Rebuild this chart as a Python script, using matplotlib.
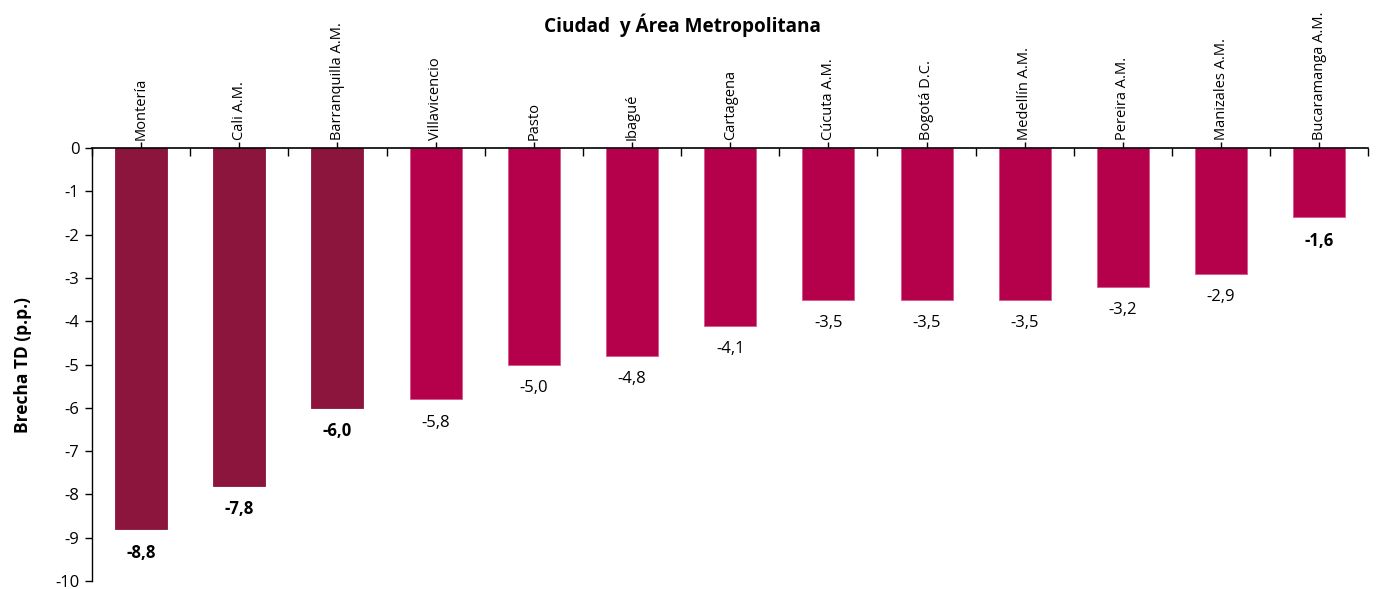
import matplotlib
matplotlib.use("Agg")
import matplotlib.pyplot as plt
import numpy as np

ciudades = ["Montería", "Cali A.M.", "Barranquilla A.M.", "Villavicencio", "Pasto",
            "Ibagué", "Cartagena", "Cúcuta A.M.", "Bogotá D.C.", "Medellín A.M.",
            "Pereira A.M.", "Manizales A.M.", "Bucaramanga A.M."]
brecha = [-8.8, -7.8, -6.0, -5.8, -5.0, -4.8, -4.1, -3.5, -3.5, -3.5, -3.2, -2.9, -1.6]
destacadas = ["Montería", "Cali A.M.", "Barranquilla A.M."]
negrita = ["Montería", "Cali A.M.", "Barranquilla A.M.", "Bucaramanga A.M."]
yticks = list(range(0, -11, -1))

plt.rcParams['font.family'] = ['Open Sans', 'DejaVu Sans']

fig = plt.figure(figsize=(13.85, 5.89), dpi=100)
ax = fig.add_axes([0.0664, 0.0136, 0.9216, 0.7351])

x = np.arange(len(ciudades))
colors = ["#8B153C" if c in destacadas else "#B5004B" for c in ciudades]
ax.bar(x, brecha, width=0.53, color=colors,
       edgecolor=["#8B153C" if c in destacadas else "#D4588A" for c in ciudades], linewidth=0.6)

for xi, v, c in zip(x, brecha, ciudades):
    ax.annotate(f"{v:.1f}".replace(".", ","), (xi, v), xytext=(0, -17), textcoords="offset points",
                ha="center", va="center", fontsize=12,
                fontweight="bold" if c in negrita else "normal", color="black")

ax.set_xlim(-0.5, len(ciudades) - 0.5)
ax.set_ylim(-10, 0)
ax.set_yticks(yticks)
ax.set_yticklabels([str(t) for t in yticks], fontsize=12)

ax.xaxis.set_ticks_position("top")
ax.set_xticks(x)
ax.set_xticklabels(ciudades)
ax.set_xticks(np.arange(len(ciudades) + 1) - 0.5, minor=True)
ax.tick_params(axis="x", which="major", direction="out", length=4, width=1, pad=2,
               labelrotation=90, labelsize=10.5)
ax.tick_params(axis="x", which="minor", direction="in", length=6, width=1, top=True, bottom=False)
ax.tick_params(axis="y", direction="out", length=5, width=1, pad=4)

for s in ["right", "bottom"]:
    ax.spines[s].set_visible(False)
ax.spines["top"].set_linewidth(1.2)
ax.spines["left"].set_linewidth(1.0)
ax.spines["top"].set_position(("data", 0))

ax.set_ylabel("Brecha TD (p.p.)", fontsize=12.5, fontweight="bold", labelpad=17)
fig.text(0.493, 0.957, "Ciudad  y Área Metropolitana", ha="center", va="center",
         fontsize=13.7, fontweight="bold")

fig.savefig("out.png", dpi=100)
